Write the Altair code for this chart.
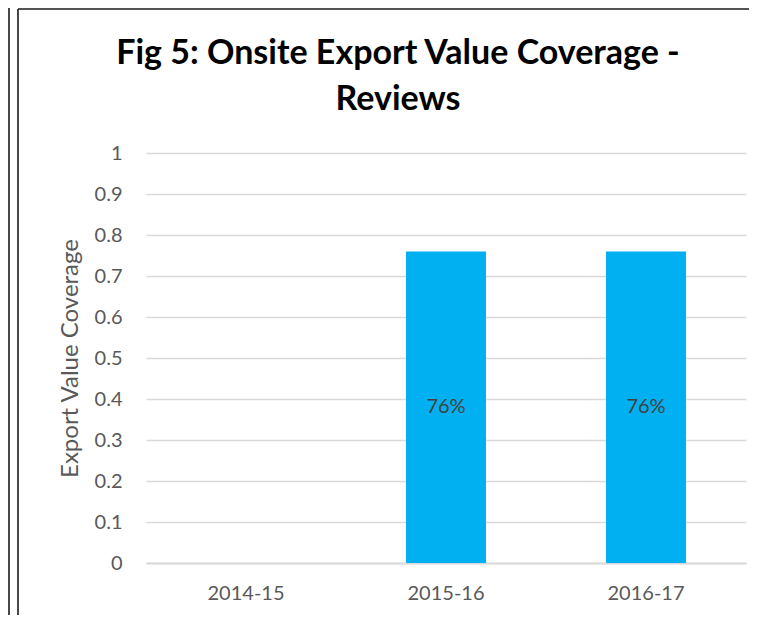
import altair as alt
import pandas as pd

years = ["2014-15", "2015-16", "2016-17"]
coverage = [0.0, 0.76, 0.76]
labels = ["", "76%", "76%"]

df = pd.DataFrame({"year": years, "coverage": coverage, "label": labels})

FONT = "Lato"
GRAY = "#595959"

base = alt.Chart(df)

bars = base.mark_bar(color="#00B0F0").encode(
    x=alt.X(
        "year:N",
        sort=years,
        scale=alt.Scale(paddingInner=0.6, paddingOuter=0.3),
        axis=alt.Axis(
            title=None,
            labelAngle=0,
            labelFont=FONT,
            labelFontSize=20,
            labelColor=GRAY,
            labelPadding=20,
            ticks=False,
            tickSize=0,
            domain=True,
            domainColor="#d9d9d9",
            domainWidth=2,
            grid=False,
        ),
    ),
    y=alt.Y(
        "coverage:Q",
        scale=alt.Scale(domain=[0, 1], nice=False),
        axis=alt.Axis(
            title="Export Value Coverage",
            values=[0, 0.1, 0.2, 0.3, 0.4, 0.5, 0.6, 0.7, 0.8, 0.9, 1],
            format="~g",
            labelFont=FONT,
            labelFontSize=20,
            labelColor=GRAY,
            labelPadding=24,
            ticks=False,
            tickSize=0,
            domain=False,
            grid=True,
            gridColor="#d9d9d9",
            gridWidth=1.3,
            titleFont=FONT,
            titleFontSize=24,
            titleFontWeight="normal",
            titleColor=GRAY,
            titleAngle=270,
            titleX=-76,
            titleY=205,
            titleAlign="center",
            titleBaseline="middle",
        ),
    ),
)

text = base.transform_filter("datum.coverage > 0").transform_calculate(
    mid="datum.coverage / 2"
).mark_text(font=FONT, fontSize=20, color="#404040", baseline="middle").encode(
    x=alt.X("year:N", sort=years),
    y=alt.Y("mid:Q"),
    text="label:N",
)

one = alt.Chart(pd.DataFrame({"a": [0]}))
frame_left = one.mark_rule(color="#1a1a1a", strokeWidth=1.6).encode(
    x=alt.value(-128), y=alt.value(-144), y2=alt.value(470)
)
frame_top = one.mark_rule(color="#1a1a1a", strokeWidth=1.6).encode(
    x=alt.value(-128), x2=alt.value(610), y=alt.value(-144)
)
neighbor = one.mark_rule(color="#1a1a1a", strokeWidth=1.6).encode(
    x=alt.value(-137), y=alt.value(-146), y2=alt.value(470)
)

chart = alt.layer(bars, text, frame_left, frame_top, neighbor).properties(
    width=600,
    height=410,
    title=alt.TitleParams(
        text=["Fig 5: Onsite Export Value Coverage -", "Reviews"],
        font=FONT,
        fontSize=34,
        fontWeight="bold",
        color="#000000",
        anchor="middle",
        frame="group",
        dx=-48,
        lineHeight=46,
        offset=-111,
    ),
    autosize=alt.AutoSizeParams(type="none"),
    padding={"left": 138, "top": 145, "right": 3, "bottom": 52},
    background="#ffffff",
).configure_view(stroke=None)

chart.save("out.html", embed_options={"renderer": "svg", "actions": False})
